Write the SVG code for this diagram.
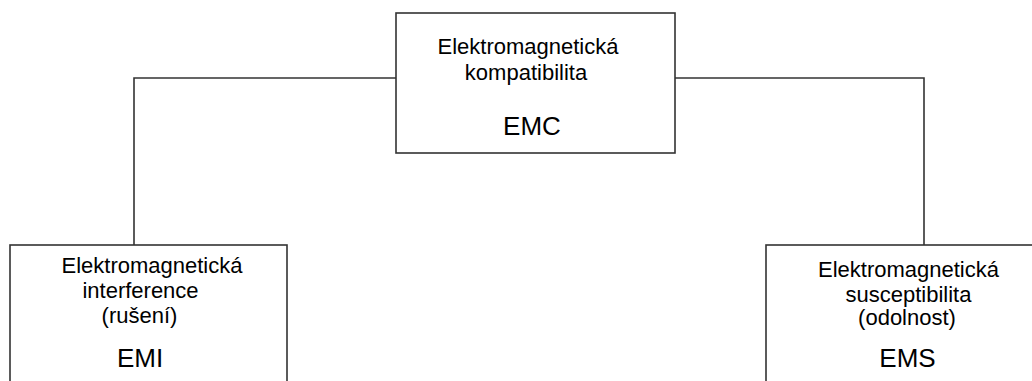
<svg xmlns="http://www.w3.org/2000/svg" width="1032" height="381" viewBox="0 0 1032 381">
<style>
.box{fill:#fff;stroke:#333;stroke-width:1.6}
.conn{fill:none;stroke:#333;stroke-width:1.6}
.t{font-family:"Liberation Sans",Arial,sans-serif;font-size:22px;fill:#000;text-anchor:middle}
.a{font-family:"Liberation Sans",Arial,sans-serif;font-size:26px;fill:#000;text-anchor:middle}
</style>
<rect width="1032" height="381" fill="#fff"/>
<g id="connectors">
<polyline class="conn" points="134,245 134,78 396,78"/>
<polyline class="conn" points="675,78 924,78 924,245"/>
</g>
<g id="emc">
<rect class="box" x="396" y="13" width="279" height="140"/>
<text class="t" x="528" y="54">Elektromagnetická</text>
<text class="t" x="526" y="80">kompatibilita</text>
<text class="a" x="532" y="135">EMC</text>
</g>
<g id="emi">
<rect class="box" x="10" y="245" width="277" height="150"/>
<text class="t" x="152" y="273">Elektromagnetická</text>
<text class="t" x="140.5" y="298">interference</text>
<text class="t" x="139.5" y="323">(rušení)</text>
<text class="a" x="140" y="367">EMI</text>
</g>
<g id="ems">
<rect class="box" x="766" y="245" width="290" height="150"/>
<text class="t" x="908.5" y="277">Elektromagnetická</text>
<text class="t" x="908.5" y="302">susceptibilita</text>
<text class="t" x="907" y="325">(odolnost)</text>
<text class="a" x="907.5" y="367">EMS</text>
</g>
</svg>
